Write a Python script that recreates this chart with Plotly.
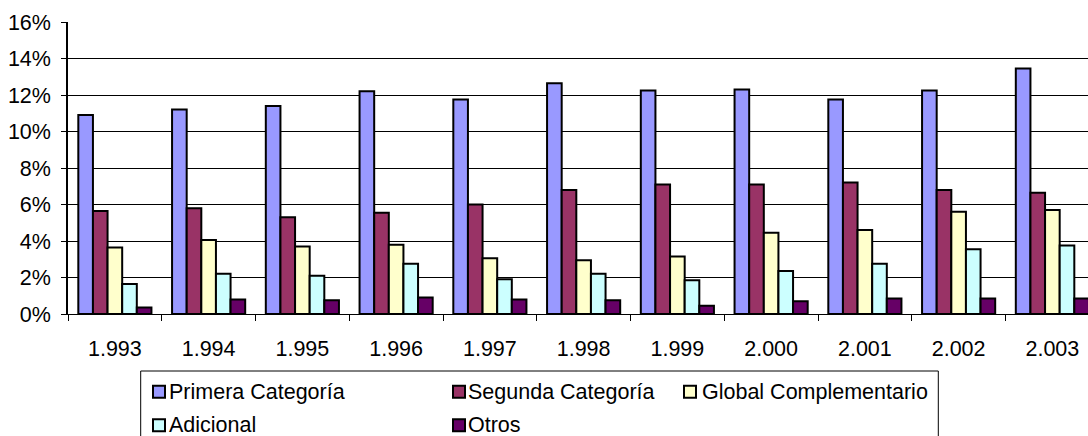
import plotly.graph_objects as go

# Years shown on the category axis
years = ["1.993", "1.994", "1.995", "1.996", "1.997", "1.998",
         "1.999", "2.000", "2.001", "2.002", "2.003"]

# Share of each tax (percent)
primera_categoria = [10.9, 11.2, 11.4, 12.2, 11.75, 12.65, 12.25, 12.3, 11.75, 12.25, 13.45]
segunda_categoria = [5.65, 5.8, 5.3, 5.55, 6.0, 6.8, 7.1, 7.1, 7.2, 6.8, 6.65]
global_complementario = [3.65, 4.05, 3.7, 3.8, 3.05, 2.95, 3.15, 4.45, 4.6, 5.6, 5.7]
adicional = [1.65, 2.2, 2.1, 2.75, 1.9, 2.2, 1.85, 2.35, 2.75, 3.55, 3.75]
otros = [0.35, 0.8, 0.75, 0.9, 0.8, 0.75, 0.45, 0.7, 0.85, 0.85, 0.85]

y_ticks = [0, 2, 4, 6, 8, 10, 12, 14, 16]
y_tick_labels = [f"{v}%" for v in y_ticks]

series = [
    ("Primera Categoría", primera_categoria, "#9999FF"),
    ("Segunda Categoría", segunda_categoria, "#993366"),
    ("Global Complementario", global_complementario, "#FFFFCC"),
    ("Adicional", adicional, "#CCFFFF"),
    ("Otros", otros, "#660066"),
]

W, H = 1088, 436
ML, MR, MT, MB = 68, 0, 22, 122
PW, PH = W - ML - MR, H - MT - MB
CAT_PX = 93.75  # width of one year slot in pixels

FONT = "Liberation Sans, Arial, sans-serif"
FS = 21.5


def px_x(x):
    return (x - ML) / PW


def px_y(y):
    return (H - MB - y) / PH


fig = go.Figure()
for name, vals, color in series:
    fig.add_trace(go.Bar(
        x=years, y=vals, name=name, showlegend=False,
        marker=dict(color=color, line=dict(color="black", width=2)),
    ))

# Legend: box with swatches and labels laid out in three columns
# (series index, swatch left, row centre, text left)
legend_items = [
    (0, 153, 391.7, 168),
    (1, 453, 391.7, 467),
    (2, 684, 391.7, 701),
    (3, 153, 425.2, 168),
    (4, 453, 425.2, 467),
]
shapes = [dict(type="rect", xref="paper", yref="paper",
               x0=px_x(140.7), x1=px_x(938.3), y0=px_y(445), y1=px_y(371),
               line=dict(color="black", width=1), fillcolor="white", layer="below")]
annotations = []
for idx, sx, cy, tx in legend_items:
    name, _, color = series[idx]
    shapes.append(dict(type="rect", xref="paper", yref="paper",
                       x0=px_x(sx), x1=px_x(sx + 12), y0=px_y(cy + 6), y1=px_y(cy - 6),
                       line=dict(color="black", width=2), fillcolor=color))
    annotations.append(dict(text=name, xref="paper", yref="paper",
                            x=px_x(tx), y=px_y(cy), xanchor="left", yanchor="middle",
                            showarrow=False, borderpad=0,
                            font=dict(family=FONT, size=FS, color="black")))

fig.update_layout(
    width=W, height=H,
    margin=dict(l=ML, r=MR, t=MT, b=MB, pad=0),
    paper_bgcolor="white", plot_bgcolor="white",
    barmode="group", bargap=0.22, bargroupgap=0,
    font=dict(family=FONT, size=FS, color="black"),
    shapes=shapes, annotations=annotations,
    xaxis=dict(
        type="category",
        range=[-0.5, -0.5 + PW / CAT_PX],
        showline=True, linecolor="black", linewidth=1,
        ticks="outside", tickson="boundaries", ticklen=6, tickcolor="black",
        ticklabelstandoff=15,
        showgrid=False, zeroline=False,
        tickfont=dict(family=FONT, size=FS, color="black"),
    ),
    yaxis=dict(
        range=[0, 16], tickvals=y_ticks, ticktext=y_tick_labels,
        showline=True, linecolor="black", linewidth=1.5,
        ticks="outside", ticklen=5, tickcolor="black", ticklabelstandoff=6,
        showgrid=True, gridcolor="black", gridwidth=1, zeroline=False,
        tickfont=dict(family=FONT, size=FS, color="black"),
    ),
)

fig.write_html("out.html")
